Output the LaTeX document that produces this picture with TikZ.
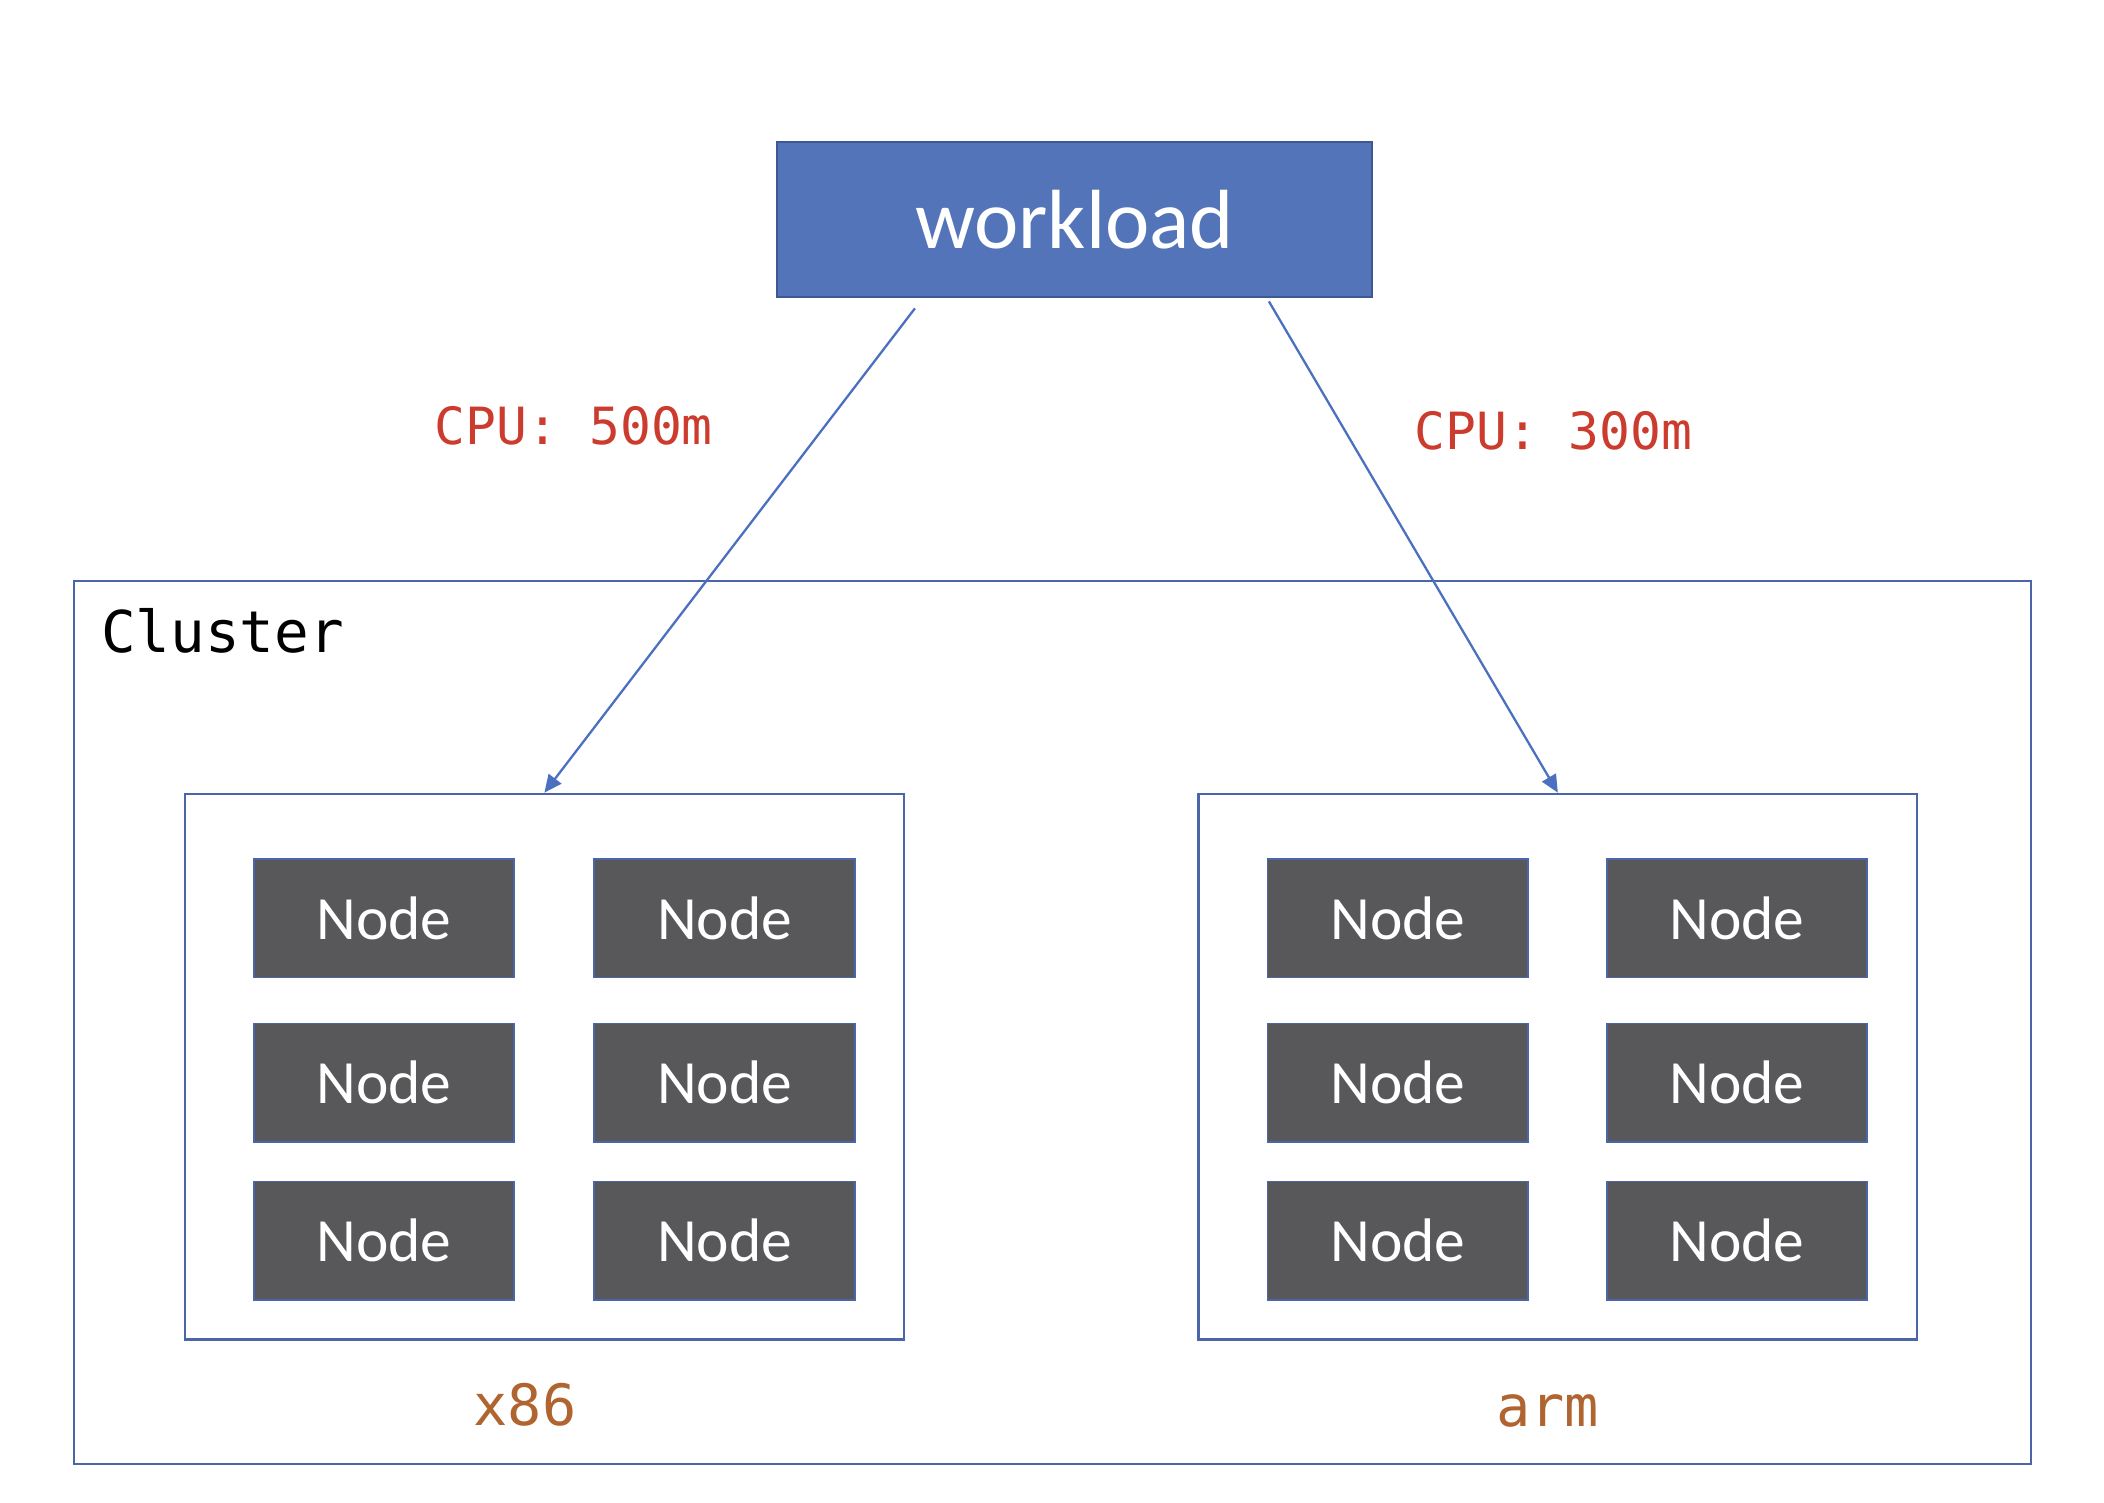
\documentclass[tikz,border=0pt]{standalone}
\usepackage{fontspec}
\setmainfont{Carlito}
\newfontfamily\monofont{DejaVu Sans Mono}
\usetikzlibrary{arrows.meta}
\definecolor{wlfill}{RGB}{83,116,184}
\definecolor{wlline}{RGB}{62,88,150}
\definecolor{boxline}{RGB}{74,102,168}
\definecolor{arrowc}{RGB}{76,112,192}
\definecolor{nodefill}{RGB}{88,88,90}
\definecolor{cpured}{RGB}{204,60,46}
\definecolor{archc}{RGB}{176,100,48}
\begin{document}
\begin{tikzpicture}[x=0.009945cm,y=-0.009945cm,
  frame/.style={draw=boxline,line width=0.6pt,fill=white,inner sep=0,anchor=north west},
  nodebox/.style={draw=boxline,line width=0.5pt,fill=nodefill,text=white,
    minimum width=2.606cm,minimum height=1.183cm,inner sep=0,
    font=\fontsize{17.5}{20}\selectfont},
  cpulabel/.style={text=cpured,inner sep=0,font=\monofont\fontsize{14.6}{17}\selectfont},
  archlabel/.style={text=archc,inner sep=0,font=\monofont\fontsize{16.2}{19}\selectfont},
  link/.style={draw=arrowc,line width=0.65pt,-{Triangle[length=5pt,width=4.5pt]}}
]
\useasboundingbox (0,0) rectangle (2115.6,1510.3);
\fill[white] (0,0) rectangle (2115.6,1510.3);

% cluster
\node[frame,minimum width=19.58cm,minimum height=8.83cm] (cluster) at (73,583) {};
\node[anchor=west,inner sep=0,font=\monofont\fontsize{16.4}{19}\selectfont] (clusterlbl) at (101,634) {Cluster};

% inner groups
\node[frame,minimum width=7.19cm,minimum height=5.46cm] (x86grp) at (185,797) {};
\node[frame,minimum width=7.19cm,minimum height=5.46cm] (armgrp) at (1204,797) {};

% nodes
\foreach \c/\x in {1/386,2/728.5,3/1405.5,4/1746.5}{
  \foreach \r/\y in {1/923.5,2/1088.5,3/1247.5}{
    \node[nodebox] (n\c\r) at (\x,\y) {Node};
  }
}

% workload
\node[draw=wlline,line width=0.6pt,fill=wlfill,text=white,minimum width=5.957cm,minimum height=1.551cm,
  inner sep=0,font=\fontsize{23.9}{28}\selectfont] (wl) at (1080.5,221) {workload};

% arrows
\draw[link] ([xshift=1.392cm,yshift=-0.1cm]wl.south west) -- (x86grp.north);
\draw[link] ([xshift=4.933cm,yshift=-0.03cm]wl.south west) -- (armgrp.north);

% labels
\node[cpulabel] (cpu1) at (577,428) {CPU: 500m};
\node[cpulabel] (cpu2) at (1562,433) {CPU: 300m};
\node[archlabel] (x86lbl) at (528,1413) {x86};
\node[archlabel] (armlbl) at (1556,1419) {arm};
\end{tikzpicture}
\end{document}
